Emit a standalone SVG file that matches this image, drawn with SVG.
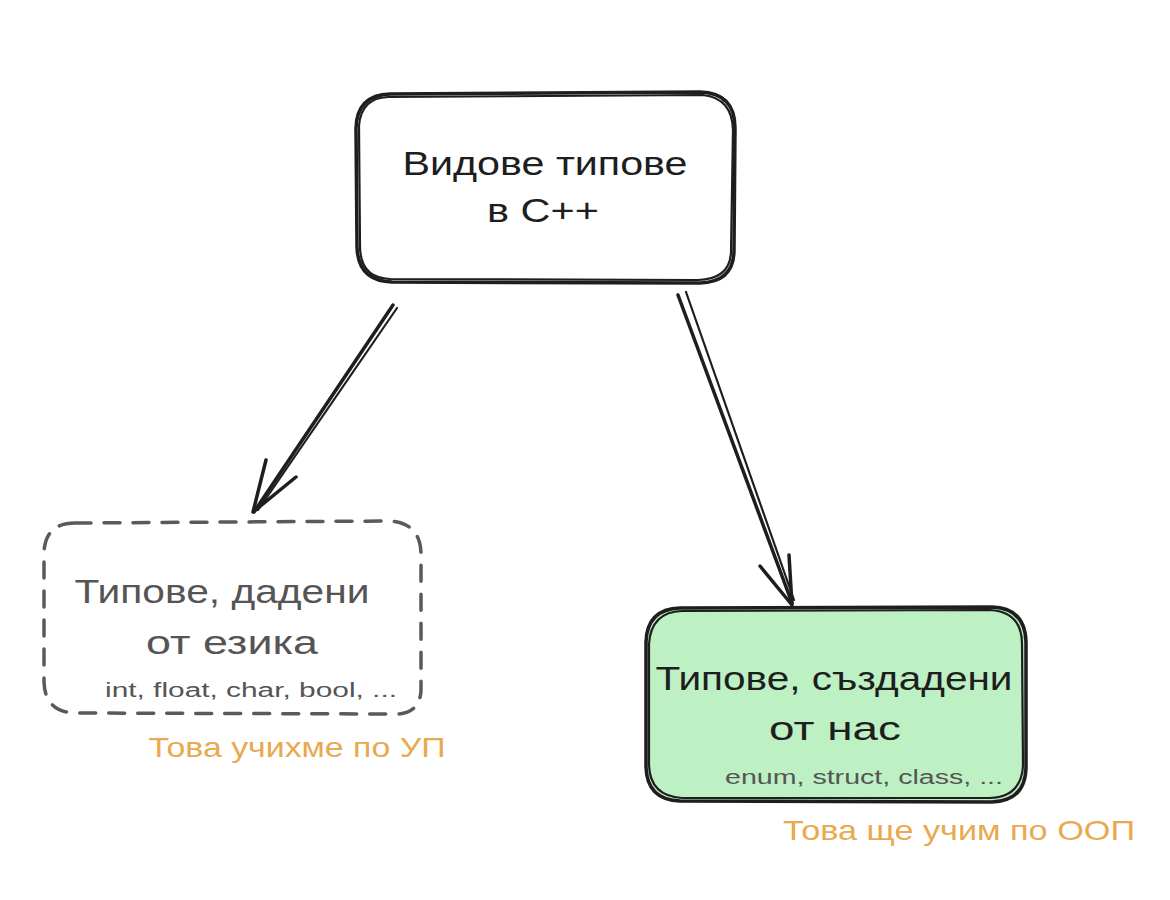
<svg xmlns="http://www.w3.org/2000/svg" width="1170" height="900" viewBox="0 0 1170 900">
<defs>
<style>
.ink{fill:none;stroke:#1e1e1e;stroke-width:3.5;stroke-linecap:round;stroke-linejoin:round}
.thin{fill:none;stroke:#1e1e1e;stroke-width:2.2;stroke-linecap:round}
.dash{fill:none;stroke:#5a5a5a;stroke-width:3.5;stroke-linecap:round;stroke-dasharray:16 13}
.t{font-family:"Liberation Sans",Arial,sans-serif;text-anchor:middle}
.big{font-size:34px;fill:#1e1e1e}
.gray{font-size:34px;fill:#555}
.small{font-size:20px;fill:#555}
.note{font-size:28px;fill:#e9a94f}
</style>
</defs>
<rect width="1170" height="900" fill="#fff"/>
<g id="connectors">
<path class="ink" d="M393 305 L254 512"/>
<path class="thin" d="M397 308 L258 510"/>
<path class="ink" d="M266 460 L253 512 L296 477"/>
<path class="ink" d="M678 295 L792 603"/>
<path class="thin" d="M686 292 L794 600"/>
<path class="ink" d="M789 555 L792 605 L760 566"/>
</g>
<g id="node-top">
<path class="ink" d="M390 94 L700 92 Q735 93 735 128 L734 250 Q734 282 700 283 L392 282 Q358 281 357 247 L356 128 Q357 95 390 94 Z"/>
<path class="thin" d="M388 97 L703 95 Q732 98 733 130 L731 252 Q730 279 698 280 L390 279 Q360 278 360 246 L359 126 Q361 98 388 97"/>
<text class="t big" x="545" y="175" textLength="285" lengthAdjust="spacingAndGlyphs">Видове типове</text>
<text class="t big" x="543" y="222" textLength="112" lengthAdjust="spacingAndGlyphs">в C++</text>
</g>
<g id="node-left">
<path class="dash" d="M75 523 L390 521 Q420 523 421 553 L421 690 Q420 716 390 714 L75 713 Q45 712 44 682 L44 553 Q45 523 75 523 Z"/>
<text class="t gray" x="222" y="603" textLength="295" lengthAdjust="spacingAndGlyphs">Типове, дадени</text>
<text class="t gray" x="232" y="654" textLength="172" lengthAdjust="spacingAndGlyphs">от езика</text>
<text class="t small" x="251" y="697" textLength="292" lengthAdjust="spacingAndGlyphs">int, float, char, bool, ...</text>
<text class="t note" x="297" y="757" textLength="297" lengthAdjust="spacingAndGlyphs">Това учихме по УП</text>
</g>
<g id="node-right">
<path d="M680 608 L992 607 Q1025 608 1026 642 L1026 768 Q1025 801 992 802 L680 801 Q647 800 646 767 L646 642 Q647 609 680 608 Z" fill="#bdf0c3"/>
<path class="ink" d="M680 608 L992 607 Q1025 608 1026 642 L1026 768 Q1025 801 992 802 L680 801 Q647 800 646 767 L646 642 Q647 609 680 608 Z"/>
<path class="thin" d="M682 611 L990 610 Q1022 612 1022 644 L1023 766 Q1021 797 990 798 L682 798 Q650 796 649 765 L649 644 Q651 612 682 611"/>
<text class="t big" x="834" y="690" textLength="357" lengthAdjust="spacingAndGlyphs">Типове, създадени</text>
<text class="t big" x="835" y="740" textLength="132" lengthAdjust="spacingAndGlyphs">от нас</text>
<text class="t small" x="864" y="784" textLength="278" lengthAdjust="spacingAndGlyphs">enum, struct, class, ...</text>
<text class="t note" x="959" y="840" textLength="352" lengthAdjust="spacingAndGlyphs">Това ще учим по ООП</text>
</g>
</svg>
